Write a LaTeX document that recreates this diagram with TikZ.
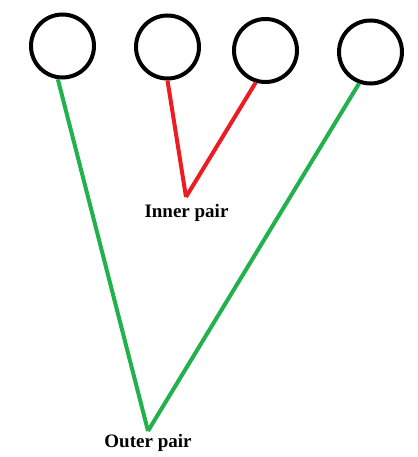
\documentclass[tikz,border=0pt]{standalone}
\usepackage{fontspec}
\setmainfont{Liberation Serif}
\definecolor{paintgreen}{RGB}{34, 177, 76}
\definecolor{paintred}{RGB}{237, 28, 36}

\begin{document}
\begin{tikzpicture}[x=1pt, y=-1pt,
    ball/.style={draw, circle, line width=4pt, minimum size=63pt, inner sep=0pt},
    pairlabel/.style={font=\fontsize{19}{22}\selectfont\bfseries, anchor=base, inner sep=0pt},
    outerline/.style={paintgreen, line width=4pt},
    innerline/.style={paintred, line width=4pt}]
    \useasboundingbox (0,0) rectangle (417,457);
    \node[ball] (b1) at (62.5,46) {};
    \node[ball] (b2) at (167.5,47) {};
    \node[ball] (b3) at (265.5,50.5) {};
    \node[ball] (b4) at (370.5,52) {};
    \coordinate (inner) at (186,197);
    \coordinate (outer) at (148,431);
    \node[pairlabel] (innerlab) at (186.5,217) {Inner pair};
    \node[pairlabel] (outerlab) at (148,447) {Outer pair};
    \draw[innerline] (b2.270) -- (inner);
    \draw[innerline] (b3.253) -- (inner);
    \draw[outerline] (b1.262) -- (outer);
    \draw[outerline] (b4.250) -- (outer);
\end{tikzpicture}
\end{document}
